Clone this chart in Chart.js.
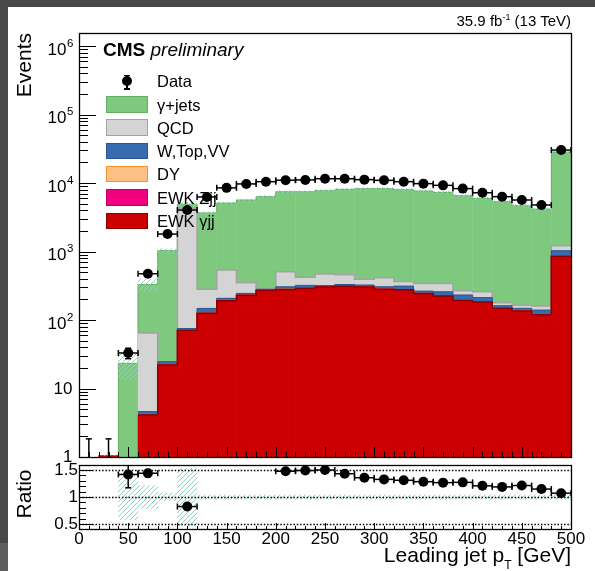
<!DOCTYPE html>
<html>
<head>
<meta charset="utf-8">
<script src="https://cdn.jsdelivr.net/npm/chart.js@4.4.1/dist/chart.umd.min.js"></script>
<style>
  html, body { margin: 0; padding: 0; background: #fff; }
  body { position: relative; width: 595px; height: 571px; overflow: hidden;
         font-family: "Liberation Sans", Arial, Helvetica, sans-serif; color: #000; }
  canvas { position: absolute; left: 0; }
  #mainChart { top: 0; }
  #ratioChart { top: 460px; }
  .frameBar { position: absolute; background: #484848; }
  .txt { position: absolute; white-space: nowrap; }
  .blk { position: absolute; box-sizing: border-box; }
</style>
</head>
<body>
<canvas id="mainChart" width="595" height="472"></canvas>
<canvas id="ratioChart" width="595" height="111"></canvas>
<div class="frameBar" style="left:0;top:0;width:595px;height:7px"></div>
<div class="frameBar" style="left:0;top:0;width:8px;height:543px"></div>
<div class="frameBar" style="left:0;top:543px;width:8px;height:28px;background:#5e5e5e"></div>

<div class="txt" style="right:24px;top:13px;font-size:15px;line-height:15px">35.9 fb<span style="font-size:9px;position:relative;top:-6px">-1</span> (13 TeV)</div>
<div class="txt" style="left:103px;top:40px;font-size:19px;line-height:19px"><b>CMS</b> <i>preliminary</i></div>
<div class="txt" style="left:13px;top:233px;width:200px;text-align:right;font-size:21px;line-height:21px;transform-origin:0 0;transform:rotate(-90deg)">Events</div>
<div class="txt" style="left:13px;top:544px;width:100px;text-align:center;font-size:21px;line-height:21px;transform-origin:0 0;transform:rotate(-90deg)">Ratio</div>
<div class="txt" style="right:24px;top:544px;font-size:21px;line-height:21px">Leading jet p<span style="font-size:12px;position:relative;top:7px">T</span> [GeV]</div>
<div id="legend"></div>

<script>
// --- values (20 GeV bins, 0-500 GeV) ---
const binEdges = [0, 20, 40, 60, 80, 100, 120, 140, 160, 180, 200, 220, 240, 260, 280, 300, 320, 340, 360, 380, 400, 420, 440, 460, 480, 500];
const binCenters = [10, 30, 50, 70, 90, 110, 130, 150, 170, 190, 210, 230, 250, 270, 290, 310, 330, 350, 370, 390, 410, 430, 450, 470, 490];

const dataCounts = [0, 0, 33, 474, 1800, 4035, 6260, 8500, 9700, 10460, 11000, 11100, 11560, 11560, 11200, 10950, 10460, 9800, 9250, 8290, 7210, 6320, 5650, 4780, 30300];

// stacked backgrounds, bottom of the stack first
const ewkGammaJJ = [0, 1.05, 0, 4.1, 22, 71, 125, 191, 229, 272, 278, 290, 304, 310, 303, 282, 276, 243, 224, 194, 183, 149, 135, 119, 850];
const ewkZjj = [0, 0, 0, 0, 0.1, 0.3, 0.6, 0.9, 1.1, 1.3, 1.3, 1.4, 1.4, 1.5, 1.4, 1.3, 1.3, 1.1, 1.0, 0.9, 0.9, 0.7, 0.6, 0.6, 4];
const dy = [0, 0, 0, 0, 0.2, 0.5, 1, 1.5, 1.5, 1.5, 4, 2, 1.5, 1.5, 4, 1.5, 1.5, 1.5, 1.5, 3, 1.5, 1, 2.5, 1, 8];
const wTopVV = [0, 0, 0, 0.5, 2.3, 3.2, 21, 14, 13, 6, 22, 27, 11, 17, 16, 21, 34, 19, 32, 34, 27, 11, 10, 19, 165];
const qcd = [0, 0, 0, 60, 0, 4220, 133, 330, 106, 8, 201, 99, 152, 129, 68, 109, 53, 78, 84, 36, 47, 17, 16, 20, 189];
const gammaJets = [0, 0, 23.3, 265, 1005, 600, 3380, 4560, 5300, 6030, 6950, 7040, 7250, 7630, 7870, 7850, 7630, 7300, 6970, 6260, 5720, 5150, 4500, 4010, 27100];

// relative MC uncertainty (hatched bands)
const mcUncMain = [0, 0, 0.42, 0.2, 0.07, 0.08, 0.04, 0.04, 0.04, 0.04, 0.04, 0.04, 0.04, 0.04, 0.04, 0.04, 0.04, 0.04, 0.04, 0.04, 0.04, 0.04, 0.04, 0.04, 0.03];
const mcUncRatio = [0, 0, 0.42, 0.21, 0.07, 0.53, 0.04, 0.04, 0.04, 0.04, 0.04, 0.04, 0.04, 0.04, 0.04, 0.04, 0.04, 0.04, 0.04, 0.04, 0.04, 0.04, 0.04, 0.04, 0.04];
const zeroCountUpper = 1.84;

const seriesNames = ['EWK γjj', 'EWK Zjj', 'DY', 'W,Top,VV', 'QCD', 'γ+jets'];
const yTickValues = [1, 10, 100, 1000, 10000, 100000, 1000000];
const yTickBases = ['1', '10', '10', '10', '10', '10', '10'];
const yTickExps = ['', '', '2', '3', '4', '5', '6'];
const ratioTickValues = [0.5, 1, 1.5];
const ratioTickLabels = ['0.5', '1', '1.5'];
const xTickValues = [0, 50, 100, 150, 200, 250, 300, 350, 400, 450, 500];
const xTickLabels = ['0', '50', '100', '150', '200', '250', '300', '350', '400', '450', '500'];

// --- styles ---
const fillColors = ['#cc0000', '#f0027f', '#fdc086', '#386cb0', '#d4d4d4', '#7fc97f'];
const lineColors = ['#8b0000', '#c0006a', '#f5902a', '#2a558e', '#a3a3a3', '#62b062'];
const lineWidths = [1.5, 1, 1, 1, 1.5, 1];
const FONT = '"Liberation Sans", Arial, Helvetica, sans-serif';
const yMax = 1.55e6, rMin = 0.41, rMax = 1.59;

const stackSeries = [ewkGammaJJ, ewkZjj, dy, wTopVV, qcd, gammaJets];
const cumulative = [];
stackSeries.forEach((s, k) => cumulative.push(s.map((v, i) => v + (k ? cumulative[k - 1][i] : 0))));
const mcTotal = cumulative[cumulative.length - 1];

function makeHatch(color) {
  const c = document.createElement('canvas');
  c.width = 5; c.height = 5;
  const g = c.getContext('2d');
  g.strokeStyle = color; g.lineWidth = 1;
  g.beginPath();
  g.moveTo(0, 5); g.lineTo(5, 0);
  g.moveTo(-1, 1); g.lineTo(1, -1);
  g.moveTo(4, 6); g.lineTo(6, 4);
  g.stroke();
  return g.createPattern(c, 'repeat');
}
const hatch = makeHatch('#8ad4c6');

function crisp(v) { return Math.round(v) + 0.5; }
function hLine(ctx, x1, x2, y) { ctx.beginPath(); ctx.moveTo(x1, y); ctx.lineTo(x2, y); ctx.stroke(); }
function vLine(ctx, x, y1, y2) { ctx.beginPath(); ctx.moveTo(x, y1); ctx.lineTo(x, y2); ctx.stroke(); }

// ROOT-like axes: ticks pointing inside, frame, custom labels
function axesPlugin(cfg) {
  return {
    id: 'rootAxes',
    beforeDatasetDraw(chart, args) {
      if (!cfg.refLines || args.index !== cfg.refBeforeIndex) return;
      const { ctx, chartArea: a, scales: { y } } = chart;
      ctx.save();
      ctx.lineWidth = 1.3; ctx.setLineDash([1.5, 1.8]); ctx.strokeStyle = '#000';
      cfg.refLines.forEach(v => hLine(ctx, a.left, a.right, crisp(y.getPixelForValue(v))));
      ctx.restore();
    },
    afterDraw(chart) {
      const { ctx, chartArea: a, scales: { x, y } } = chart;
      ctx.save();
      ctx.strokeStyle = '#000'; ctx.lineWidth = 1;
      for (let v = 0; v <= 500; v += 10) {
        const px = crisp(x.getPixelForValue(v));
        vLine(ctx, px, a.bottom, a.bottom - (v % 50 === 0 ? cfg.xMajor : cfg.xMinor));
      }
      cfg.yTicks.forEach(t => {
        const py = crisp(y.getPixelForValue(t.v));
        if (py < a.top || py > a.bottom + 1) return;
        hLine(ctx, a.left, a.left + (t.major ? cfg.yMajor : cfg.yMinor), py);
      });
      ctx.lineWidth = 1.3;
      ctx.strokeRect(crisp(a.left), crisp(a.top), Math.round(a.right - a.left), Math.round(a.bottom - a.top));
      cfg.labels(ctx, chart);
      ctx.restore();
    }
  };
}

function errorBarPlugin(points) {
  return {
    id: 'errorBars',
    afterDatasetsDraw(chart) {
      const { ctx, chartArea: a, scales: { x, y } } = chart;
      ctx.save();
      ctx.beginPath(); ctx.rect(a.left, a.top, a.right - a.left, a.bottom - a.top); ctx.clip();
      ctx.strokeStyle = '#000'; ctx.lineWidth = 1.5;
      const cap = 3;
      points.forEach(p => {
        const px = x.getPixelForValue(p.x);
        const pyLo = y.getPixelForValue(p.lo), pyHi = y.getPixelForValue(p.hi);
        vLine(ctx, px, pyLo, pyHi);
        hLine(ctx, px - cap, px + cap, pyHi);
        if (p.y !== null) {
          hLine(ctx, px - cap, px + cap, pyLo);
          const py = y.getPixelForValue(p.y);
          const x1 = x.getPixelForValue(p.xlo), x2 = x.getPixelForValue(p.xhi);
          hLine(ctx, x1, x2, py);
          vLine(ctx, x1, py - cap, py + cap);
          vLine(ctx, x2, py - cap, py + cap);
        }
      });
      ctx.restore();
    }
  };
}

// --- main panel ---
const mainYTicks = [];
for (let e = 0; e <= 6; e++) {
  for (let m = 1; m <= 9; m++) {
    const v = m * Math.pow(10, e);
    if (v <= yMax) mainYTicks.push({ v, major: m === 1 });
  }
}

function drawMainLabels(ctx, chart) {
  const y = chart.scales.y;
  ctx.fillStyle = '#000';
  ctx.textBaseline = 'middle';
  yTickValues.forEach((v, i) => {
    const py = y.getPixelForValue(v);
    ctx.font = '17px ' + FONT;
    ctx.textAlign = 'right';
    if (!yTickExps[i]) {
      ctx.fillText(yTickBases[i], 72.5, py + 0.5);
    } else {
      ctx.fillText(yTickBases[i], 66.5, py + 4);
      ctx.font = '11.5px ' + FONT;
      ctx.textAlign = 'left';
      ctx.fillText(yTickExps[i], 67, py - 2.5);
    }
  });
}

const mainDatasets = [];
for (let k = stackSeries.length - 1; k >= 0; k--) {
  mainDatasets.push({
    type: 'bar',
    label: seriesNames[k],
    data: binCenters.map((c, i) => ({ x: c, y: cumulative[k][i] })),
    backgroundColor: fillColors[k],
    borderWidth: 0,
    grouped: false,
    barPercentage: 1.02,
    categoryPercentage: 1,
    order: 21 + 2 * k
  });
  mainDatasets.push({
    type: 'line',
    label: seriesNames[k] + ' outline',
    data: binEdges.map((e, i) => ({ x: e, y: cumulative[k][Math.min(i, binCenters.length - 1)] })),
    stepped: true,
    borderColor: lineColors[k],
    borderWidth: lineWidths[k],
    pointRadius: 0,
    fill: false,
    clip: 1,
    order: 20 + 2 * k
  });
}
mainDatasets.push({
  type: 'bar',
  label: 'MC unc.',
  data: binCenters.map((c, i) => ({ x: c, y: mcTotal[i] > 0 ? [mcTotal[i] * (1 - mcUncMain[i]), mcTotal[i] * (1 + mcUncMain[i])] : null })),
  backgroundColor: hatch,
  borderWidth: 0,
  grouped: false,
  barPercentage: 1,
  categoryPercentage: 1,
  order: 10
});
mainDatasets.push({
  type: 'line',
  label: 'Data',
  data: binCenters.map((c, i) => ({ x: c, y: dataCounts[i] > 0 ? dataCounts[i] : null })),
  showLine: false,
  pointRadius: 5,
  pointHoverRadius: 5,
  pointBackgroundColor: '#000',
  pointBorderWidth: 0,
  order: 0
});

const mainErrPoints = binCenters.map((c, i) => {
  const n = dataCounts[i];
  if (n === 0) return { x: c, y: null, lo: 0, hi: zeroCountUpper };
  const s = Math.sqrt(n);
  return { x: c, y: n, lo: n - s, hi: n + s, xlo: binEdges[i], xhi: binEdges[i + 1] };
});

new Chart(document.getElementById('mainChart'), {
  type: 'bar',
  data: { datasets: mainDatasets },
  options: {
    responsive: false,
    animation: false,
    events: [],
    layout: { padding: { left: 79, right: 24, top: 33, bottom: 15 } },
    plugins: { legend: { display: false }, tooltip: { enabled: false } },
    scales: {
      x: { type: 'linear', min: 0, max: 500, offset: false, display: false, ticks: { stepSize: 100 } },
      y: { type: 'logarithmic', min: 1, max: yMax, display: false }
    }
  },
  plugins: [
    errorBarPlugin(mainErrPoints),
    axesPlugin({ xMajor: 10, xMinor: 5, yMajor: 17, yMinor: 9, yTicks: mainYTicks, labels: drawMainLabels })
  ]
});

// --- ratio panel ---
const ratioYTicks = [];
for (let j = 5; j <= 15; j++) ratioYTicks.push({ v: j / 10, major: j % 5 === 0 });

const ratioPoints = [];
binCenters.forEach((c, i) => {
  const n = dataCounts[i], t = mcTotal[i];
  if (n <= 0 || t <= 0) return;
  const r = n / t;
  if (r < rMin || r > rMax) return;
  const e = Math.sqrt(n) / t;
  ratioPoints.push({ x: c, y: r, lo: r - e, hi: r + e, xlo: binEdges[i], xhi: binEdges[i + 1] });
});

function drawRatioLabels(ctx, chart) {
  const { x, y } = chart.scales;
  ctx.font = '17px ' + FONT;
  ctx.fillStyle = '#000';
  ctx.textAlign = 'right';
  ctx.textBaseline = 'middle';
  ratioTickValues.forEach((v, i) => ctx.fillText(ratioTickLabels[i], 78, y.getPixelForValue(v) + 0.5));
  ctx.textAlign = 'center';
  ctx.textBaseline = 'alphabetic';
  xTickValues.forEach((v, i) => ctx.fillText(xTickLabels[i], x.getPixelForValue(v), 84));
}

new Chart(document.getElementById('ratioChart'), {
  type: 'bar',
  data: {
    datasets: [
      {
        type: 'bar',
        label: 'MC unc.',
        data: binCenters.map((c, i) => ({ x: c, y: mcTotal[i] > 0 ? [1 - mcUncRatio[i], 1 + mcUncRatio[i]] : null })),
        backgroundColor: hatch,
        borderWidth: 0,
        grouped: false,
        barPercentage: 1,
        categoryPercentage: 1,
        order: 2
      },
      {
        type: 'line',
        label: 'Data / MC',
        data: ratioPoints.map(p => ({ x: p.x, y: p.y })),
        showLine: false,
        pointRadius: 5,
        pointHoverRadius: 5,
        pointBackgroundColor: '#000',
        pointBorderWidth: 0,
        order: 1
      }
    ]
  },
  options: {
    responsive: false,
    animation: false,
    events: [],
    layout: { padding: { left: 79, right: 24, top: 2, bottom: 42 } },
    plugins: { legend: { display: false }, tooltip: { enabled: false } },
    scales: {
      x: { type: 'linear', min: 0, max: 500, offset: false, display: false, ticks: { stepSize: 100 } },
      y: { type: 'linear', min: rMin, max: rMax, display: false }
    }
  },
  plugins: [
    errorBarPlugin(ratioPoints),
    axesPlugin({ xMajor: 6, xMinor: 3, yMajor: 14, yMinor: 7, yTicks: ratioYTicks, labels: drawRatioLabels,
                 refLines: ratioTickValues, refBeforeIndex: 1 })
  ]
});

// --- legend (ROOT style, drawn over the plot) ---
const legendEl = document.getElementById('legend');
function addBlock(style, text) {
  const d = document.createElement('div');
  d.className = text ? 'txt' : 'blk';
  Object.assign(d.style, style);
  if (text) d.textContent = text;
  legendEl.appendChild(d);
}
const legX = 106, legTextX = 157, legY0 = 81, legStep = 23.3;
addBlock({ left: '126.25px', top: '75px', width: '1.5px', height: '14px', background: '#000' });
addBlock({ left: '124px', top: '74.5px', width: '6px', height: '1.5px', background: '#000' });
addBlock({ left: '124px', top: '88px', width: '6px', height: '1.5px', background: '#000' });
addBlock({ left: '122px', top: '76px', width: '10px', height: '10px', borderRadius: '50%', background: '#000' });
addBlock({ left: legTextX + 'px', top: (legY0 - 9.8) + 'px', fontSize: '16.5px', lineHeight: '20px' }, 'Data');
for (let j = 0; j < seriesNames.length; j++) {
  const k = seriesNames.length - 1 - j;
  const cy = legY0 + legStep * (j + 1);
  addBlock({ left: legX + 'px', top: (cy - 8.3) + 'px', width: '42px', height: '16.6px',
             background: fillColors[k], border: '1.5px solid ' + lineColors[k] });
  addBlock({ left: legTextX + 'px', top: (cy - 9.8) + 'px', fontSize: '16.5px', lineHeight: '20px' }, seriesNames[k]);
}
</script>
</body>
</html>
